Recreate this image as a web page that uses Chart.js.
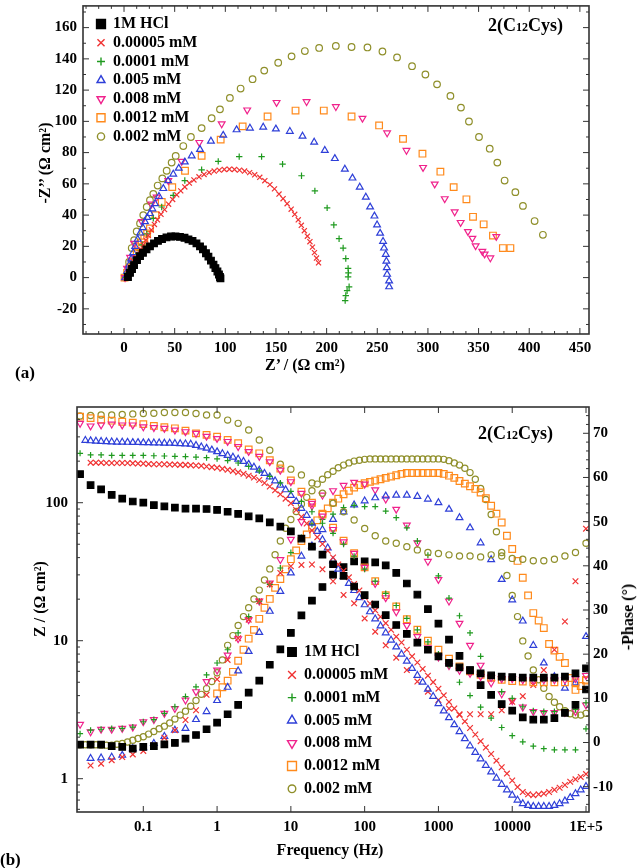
<!DOCTYPE html>
<html>
<head>
<meta charset="utf-8">
<script src="https://cdn.jsdelivr.net/npm/chart.js@4.4.1/dist/chart.umd.min.js"></script>
<style>
html, body { margin: 0; padding: 0; background: #fff; }
#wrap { position: relative; width: 637px; height: 868px; overflow: hidden;
        font-family: "Liberation Serif", "Times New Roman", serif; font-weight: bold; color: #000; }
canvas { position: absolute; left: 0; }
#cA { top: 0; }
#cB { top: 400px; }
.lbl { position: absolute; white-space: nowrap; line-height: 1; }
.mid { transform: translate(-50%, -50%); }
.rot { transform: translate(-50%, -50%) rotate(-90deg); }
.vc { transform: translateY(-50%); }
</style>
</head>
<body>
<div id="wrap">
  <canvas id="cA" width="637" height="395"></canvas>
  <canvas id="cB" width="637" height="468"></canvas>

  <div class="lbl mid" style="left:305px;top:365px;font-size:16px">Z’ / (Ω cm²)</div>
  <div class="lbl rot" style="left:45px;top:163px;font-size:16px">-Z’’ (Ω cm²)</div>
  <div class="lbl vc" style="left:488px;top:25px;font-size:18px">2(C<span style="font-size:12px">12</span>Cys)</div>
  <div class="lbl vc" style="left:15px;top:372px;font-size:17px">(a)</div>

  <div class="lbl mid" style="left:330px;top:850px;font-size:16px">Frequency (Hz)</div>
  <div class="lbl rot" style="left:40px;top:599px;font-size:16px">Z / (Ω cm²)</div>
  <div class="lbl rot" style="left:628px;top:617px;font-size:16px">-Phase (°)</div>
  <div class="lbl vc" style="left:478px;top:433px;font-size:18px">2(C<span style="font-size:12px">12</span>Cys)</div>
  <div class="lbl vc" style="left:0px;top:859px;font-size:17px">(b)</div>
</div>

<script>
// ---- series names ----
const LABELS = ['1M HCl', '0.00005 mM', '0.0001 mM', '0.005 mM', '0.008 mM', '0.0012 mM', '0.002 mM'];

// ---- (a) Nyquist: Z' and -Z'' (ohm cm2) ----
const nyqHclRe = [3.9,5.9,7.9,9.9,12.8,15.8,18.7,22.2,25.6,29.6,33.5,37.5,41.9,46.4,50.8,55.2,59.7,63.6,67.6,71.5,75.0,77.9,80.9,83.3,85.8,88.3,90.2,92.2,93.7,94.7,95.2];
const nyqHclIm = [0.4,3.0,5.5,8.0,11.2,13.7,15.9,18.1,20.0,21.9,23.5,24.7,25.7,26.3,26.4,26.1,25.5,24.5,23.5,21.9,20.0,18.1,15.6,13.4,10.9,8.3,6.1,3.9,2.0,0.4,-0.5];

const nyqRedRe = [2,4,6,8,10,12,14,16.5,19,21.5,24,27,30,33,36.5,40,44,48,52,56,60,64.5,69,74,79,84,89,94,99,104,109,114,119,124,129,134,139,144,148.5,153,157,161,165,168.5,172,175,178,181,183.5,186,188,190,192];
const nyqRedIm = [0,2.5,5,7.5,10,12.5,15,18,21,24,27,30.5,34,37,40.5,43.5,47,50,53,55.5,58,60.5,62.5,64.5,66,67.3,68.2,68.8,69.2,69.4,69.2,68.8,68.2,67.2,65.8,64.2,62,59.5,56.8,53.5,50.5,47.3,43.8,40.5,37,33.5,30,26.5,23,19.5,16,12.5,9.5];

const nyqGreenRe = [2,4,6,8,11,14,18,22.5,28.9,37.2,48.6,60,76.6,93,113.7,135.8,156.5,175.2,188.4,200.5,207.1,212.3,216.3,218.9,221.2,221.5,221.2,222.2,220.2,218.9,218.3];
const nyqGreenIm = [0,3,6,9,12,15.5,21,28,37.9,45.2,52.6,62.1,69,74.4,77.4,77.4,72.6,65.2,55.5,44.6,33.7,24.9,18.9,12.2,5.9,3,0.4,-5.9,-8.4,-11.5,-14.7];

const nyqBlueRe = [1,3,5,7,9,11,13.5,16,18.5,20.7,23,25.6,28,30.6,34.5,38.8,43.5,48.6,54,60,66.8,75,85.8,97.9,111.1,124.3,137.4,149.9,163.7,176.2,187.7,198.2,208.1,218,225.5,232.7,238.7,242.9,247.2,249.8,252.8,255.7,256.7,258.4,259,259.4,259.7,261.7,261.7];
const nyqBlueIm = [0,4,8,12,16,20,24.5,28.5,32,35.8,38.5,41,44,47.3,52,57,62,66.2,70,74,77.9,82,87.3,91.1,94.6,95.7,96.3,95.1,93.6,90.5,86.7,81.4,76.2,69.4,63.7,57.9,51.5,45.2,39.4,33.7,28.4,23.2,18.9,14.8,10.5,6.3,2.1,-2.1,-5.9];

const nyqPinkRe = [1,3,6,10,17.5,27,32.2,43.7,56.9,74.3,96.4,121.6,150.6,180.2,209.1,235.4,259.7,278.8,295.2,306.7,316.6,326.4,332.3,339.5,343.9,347.1,353.7,356,361.6,367.5];
const nyqPinkIm = [0,6,13,22,35.8,47,51.5,62.1,74.4,86.5,98.4,107.3,112.1,112.6,109.4,102,92.6,81.4,70.5,59.9,50.5,42.1,35.3,29.5,25.2,20.4,16.8,15.1,12.6,26.3];

const nyqOrangeRe = [0.5,3,5,7.5,10,12.5,15,17.5,20,22.8,25.6,31,37.2,47.6,60.2,76.6,95.4,117.1,141.7,169.3,197.2,224.6,251.8,275.4,294.6,312.3,325.4,338,344.5,355,364.2,374,381.4];
const nyqOrangeIm = [0,3,6,9.5,12.5,16,19.5,22.5,25,28.2,31.5,40,48.4,57.9,68.4,77.9,88.3,96.8,103.1,106.9,106.9,103.1,97.4,88.8,79.3,67.8,57.9,50.1,38.9,34.1,26.9,18.9,18.9];

const nyqOliveRe = [1,2.7,5,7.6,10,12.5,15.8,19,22.4,25.6,28.9,33.2,37.8,42.1,47,51,58.5,66,76.6,86.5,94.7,104.5,115.1,126.9,138.4,152.2,165.4,178.5,192.6,209.1,224.6,240.3,255.1,269.5,284.3,297.5,309,322.2,332.6,340.5,350.4,361,368.5,375.7,386.3,393.8,405.3,413.5];
const nyqOliveIm = [0,2.1,10,18.9,24,29.5,34.7,40,45.2,49.5,53.6,58.9,63.5,68.4,73.6,77.9,84.2,90,95.7,102,107.7,115,121,127,132.5,137.5,141.6,145,147,148.3,147.6,147.3,144.7,140.9,135.3,130,123.7,116.3,108.8,99.9,90,82.5,73.6,62.1,54.7,45.9,36.2,27.4];

const NYQ_X_TICKS = [0, 50, 100, 150, 200, 250, 300, 350, 400, 450];
const NYQ_Y_TICKS = [-20, 0, 20, 40, 60, 80, 100, 120, 140, 160];

// ---- (b) Bode: frequencies (Hz) ----
const F7 = [0.0139,0.0193,0.0268,0.0373,0.0518,0.072,
  0.1,0.139,0.193,0.268,0.373,0.518,0.72,
  1,1.39,1.93,2.68,3.73,5.18,7.2,
  10,13.9,19.3,26.8,37.3,51.8,72,
  100,139,193,268,373,518,720,
  1000,1390,1930,2680,3730,5180,7200,
  10000,13900,19300,26800,37300,51800,72000,
  100000];
const F14 = [0.0139,0.0164,0.0193,0.0228,0.0268,0.0316,0.0373,0.0439,0.0518,0.0611,0.072,0.0848,
  0.1,0.118,0.139,0.164,0.193,0.228,0.268,0.316,0.373,0.439,0.518,0.611,0.72,0.848,
  1,1.18,1.39,1.64,1.93,2.28,2.68,3.16,3.73,4.39,5.18,6.11,7.2,8.48,
  10,11.8,13.9,16.4,19.3,22.8,26.8,31.6,37.3,43.9,51.8,61.1,72,84.8,
  100,118,139,164,193,228,268,316,373,439,518,611,720,848,
  1000,1180,1390,1640,1930,2280,2680,3160,3730,4390,5180,6110,7200,8480,
  10000,11800,13900,16400,19300,22800,26800,31600,37300,43900,51800,61100,72000,84800,
  100000];

// |Z| (ohm cm2) and -phase (deg)
const hclMod = [161,134,125,114,107,102,100,96,94,92,90.5,90.5,90,88.6,86,83,79.5,77,72,67,62,55,48,42,35.8,29.5,24.7,21.4,18.3,15.3,13,11.2,9.7,8.6,7.7,6.9,6.4,6.1,5.8,5.6,5.5,5.45,5.4,5.4,5.4,5.4,5.5,5.8,6.3];
const hclPhase = [-0.5,-0.5,-0.5,-0.8,-1,-1.4,-1,-0.8,-0.4,-0.1,0.9,1.7,3.0,4.5,6.4,8.5,11.3,14.0,17.6,21.1,24.8,28.8,32.1,35.2,38.0,39.7,41.0,41.0,40.8,40.1,38.4,36.0,33.5,30.2,26.9,23.3,19.6,16.4,13.0,10.8,8.7,7.2,5.7,5.2,5.2,5.5,6.7,8.5,12.0];

const redMod = [null,null,195,195,195,194,194,194,194,194,193,192,192,191,190,190,190,189,189,188,188,
  187,186,185,183,181,179,176,173,170,166,
  162,157,152,146,139,131,123,115,107,99,
  88.5,79,70.6,63,56.3,50.2,44.9,40.1,
  35.7,32.1,28.8,25.8,23.1,20.7,18.6,16.6,14.9,13.4,12.0,10.7,9.7,8.6,7.7,6.95,6.24,5.58,5.01,4.49,4.02,3.6,3.23,2.9,2.6,2.33,2.09,1.87,1.68,1.51,1.35,1.21,1.09,0.97,
  0.87,0.8,0.77,0.76,0.77,0.78,0.8,0.83,0.86,0.9,0.95,0.99,1.03,1.08];
const redPhase = [null,-5.2,-4.8,-4.0,-3.3,-2.7,-1.9,-0.6,1.1,2.8,5.1,7.3,10.8,14.3,18.7,23.6,27.8,32,35.8,38.4,39.9,40.2,40.3,39.2,36.5,33.4,31.5,28.1,25.1,22,19.2,16.4,13.8,11.5,9.6,7.7,6.4,6.4,6.4,6.4,7.3,9.2,10.5,13,16.4,21,27.4,36.5,48.4];

const greenMod = [228,222,222,220,220,220,220,219,218,217,216,214,212,208,202,194,183,170,155,139,121,102,86,71,60,50,41,33,27,22,18,14.5,12,9.8,8,6.6,5.0,4.0,3.3,2.75,2.35,2.05,1.85,1.72,1.65,1.62,1.62,1.62,2.3];
const greenPhase = [2.0,2.8,3.0,3.2,3.2,3.5,4.7,5.2,6.6,8.1,10.4,12.6,15.3,18,21,24.8,28.5,32,35.8,39.5,43,46.4,49.4,50.5,51.7,53.2,53.7,53.4,53.4,52.4,50.9,48.6,45.6,42.4,37.7,32.7,28.7,24.8,19.5,15,11.5,10,8.1,7.2,7,7,7,7.5,9];

const blueMod = [null,283,281,279,278,277,276,275,275,274,273,
  273,272,272,271,271,270,270,269,268,267,
  266,260,254,248,241,234,227,220,214,207,199,190,181,172,163,154,144,134,124,113,102,91,81,71,62,54,47,
  38,33,29.2,
  26,23.1,20.5,18.2,16.2,14.4,12.8,11.4,10.1,9.0,8.0,7.1,6.3,5.6,5.0,4.45,3.95,3.5,3.1,2.77,2.46,2.19,1.95,1.73,1.55,1.39,1.25,1.12,1.01,0.91,0.83,0.76,0.7,
  0.66,0.64,0.63,0.63,0.63,0.63,0.64,0.66,0.69,0.73,0.78,0.83,0.88];
const bluePhase = [null,-3.6,-3.5,-3.3,-2.9,-1.4,-1.2,-0.2,1.4,2.8,3.2,5.2,7,9.5,12.5,16.2,20.6,24.9,29.7,34.2,38.4,42.2,44.5,48.2,50.5,52.2,53.8,54.7,55.4,55.8,56,56,55.7,55.1,54.3,52.8,50.9,48.6,45.2,41.4,36.9,32.3,27.5,22,18,14.9,12.3,13.5,24];

const pinkMod = [376,360,366,371,366,366,355,350,346,336,327,318,303,292,278,255,235,217,198,172,142,117,99,80,64,52,43,34,26,20.5,16.2,12.9,10.7,8.9,7.6,6.6,6.1,5.8,5.5,5.4,5.3,5.3,5.2,5.2,5.2,5.2,5.2,5.3,5.6];
const pinkPhase = [4.1,2.4,3,3,3.2,3.5,4.7,5.2,6.6,7.7,9.6,11.5,13.8,16.4,19.8,23.5,27.8,32,36.1,41.4,46,50,53.5,56,57,58.2,58.9,58.5,57.2,55.1,52.8,49.2,45.2,41,36.9,32,27,22,17.5,13.5,11,9.5,8,7,6.8,6.8,6.8,7,8.5];

const orangeMod = [420,410,400,393,386,380,371,360,352,346,333,318,310,301,285,270,243,228,203,177,145,120,100,82,66,53,43,34,27,21.4,17.7,14.3,12,10,8.6,7.4,6.5,6,5.65,5.4,5.2,5.1,5.05,5,5,5,5,5,5.2];
// starts near 1 Hz (the last 71 frequencies of F14)
const orangePhase = [11.1,12.5,14,16,18.5,21,23.5,25.5,28,30.5,32.5,35,37,39.2,41.5,43.5,45.6,47.1,48.8,50.3,51.8,53,54.3,55.2,56.2,57,57.7,58.3,58.7,59,59.3,59.6,59.9,60.2,60.5,60.8,61,61,61,61,61,61,61,60.8,60.4,59.9,59.2,58.6,58,57.4,56.6,55.3,53.6,51.8,49.8,46.8,43.8,41.1,37.3,33.3,29.3,27.6,25.9,22.3,20.8,19.4,18,14.6,11.9,12.8,14];

const oliveMod = [425,428,432,432,436,440,443,445,450,450,450,443,432,432,397,376,336,285,240,190,175,159,139,117,99,86,75,65,57.6,52.8,50.8,48,45.5,43.6,42.8,41.9,41.1,41.1,40.5,41.9,41.1,39.5,38.9,38,38,38.9,41.1,43.6,50.8];
const olivePhase = [-0.5,-0.5,-0.5,-0.5,-0.6,-0.6,-0.6,
  -0.4,-0.2,0.1,0.5,0.9,1.3,1.9,2.5,3.1,3.7,4.4,5.3,6.2,7.1,
  8.2,9.5,10.9,12.2,13.8,15.8,18.7,22,24.2,26.5,28.5,30.5,32.5,34.5,36.8,
  39.3,42.5,45.6,48.5,50.5,52.3,54,55.5,57,58.5,59.6,60.6,61.4,62.2,62.8,63.3,63.7,63.9,64.1,
  64.2,64.2,64.2,64.2,64.2,64.2,64.2,64.2,64.2,64.2,64.2,64.2,64.2,64.2,
  64.1,63.8,63.3,62.8,62.1,61.1,59.6,57.5,55,51.6,47.7,43,37.8,33.3,28.5,23,19.6,16.4,14.2,12.3,10.4,9.1,8.1,7.2,6.5,6.2,6.2,6.6];

const BODE_X_TICKS = [0.1, 1, 10, 100, 1000, 10000, 100000];
const BODE_X_LABELS = ['0.1', '1', '10', '100', '1000', '10000', '1E+5'];
const BODE_Z_TICKS = [1, 10, 100];
const BODE_P_TICKS = [-10, 0, 10, 20, 30, 40, 50, 60, 70];

// ---- styles ----
const MARK = [
  { style: 'rect',     color: '#000000', fill: true },
  { style: 'crossRot', color: '#f03232' },
  { style: 'cross',    color: '#1f9a1f' },
  { style: 'triangle', color: '#2e3fd8', rot: 0 },
  { style: 'triangle', color: '#f0228c', rot: 180 },
  { style: 'rect',     color: '#ff8a1c' },
  { style: 'circle',   color: '#8f8f2a' }
];
const R_A = [4.7, 3.6, 3.2, 3.9, 3.9, 4.7, 3.3];
const R_B = [4.6, 4.0, 3.0, 3.9, 3.9, 4.7, 3.1];

const SERIF = '"Liberation Serif", "Times New Roman", serif';
Chart.defaults.font.family = SERIF;
Chart.defaults.font.weight = 'bold';
Chart.defaults.font.size = 15;
Chart.defaults.color = '#000';

function zip(xs, ys) {
  const out = [];
  ys.forEach((y, i) => { if (y !== null) out.push({ x: xs[i], y: y }); });
  return out;
}

function makeSet(i, data, r, axis) {
  const m = MARK[i];
  return {
    label: LABELS[i], data: data, yAxisID: axis,
    pointStyle: m.style, pointRotation: m.rot || 0,
    pointRadius: r, pointHoverRadius: r,
    pointBorderColor: m.color,
    pointBackgroundColor: m.fill ? m.color : 'rgba(0,0,0,0)',
    pointBorderWidth: 1.2, showLine: false
  };
}

// fixed axis box sizes, no label overhang padding
function fixSize(w, h) {
  return s => {
    if (w) s.width = w;
    if (h) s.height = h;
    s.paddingTop = 0; s.paddingBottom = 0; s.paddingLeft = 0; s.paddingRight = 0;
  };
}

// inward tick marks and the box round the plot
const frame = {
  id: 'frame',
  afterDatasetsDraw(chart, args, o) {
    const { ctx, chartArea: a } = chart;
    ctx.save();
    ctx.strokeStyle = '#333';
    ctx.lineWidth = 1;
    for (const m of o.marks) {
      const s = chart.scales[m.scale];
      ctx.beginPath();
      for (const v of m.values) {
        const p = s.getPixelForValue(v);
        if (m.side === 'bottom') { ctx.moveTo(p, a.bottom); ctx.lineTo(p, a.bottom - m.len); }
        if (m.side === 'top')    { ctx.moveTo(p, a.top);    ctx.lineTo(p, a.top + m.len); }
        if (m.side === 'left')   { ctx.moveTo(a.left, p);   ctx.lineTo(a.left + m.len, p); }
        if (m.side === 'right')  { ctx.moveTo(a.right, p);  ctx.lineTo(a.right - m.len, p); }
      }
      ctx.stroke();
    }
    ctx.lineWidth = 1.6;
    ctx.strokeRect(a.left, a.top, a.right - a.left, a.bottom - a.top);
    ctx.restore();
  }
};

// legend drawn inside the plot
const keyBox = {
  id: 'keyBox',
  afterDatasetsDraw(chart, args, o) {
    const ctx = chart.ctx;
    ctx.save();
    ctx.font = 'bold ' + o.size + 'px ' + SERIF;
    ctx.textBaseline = 'middle';
    LABELS.forEach((lab, i) => {
      const m = MARK[i];
      const y = o.y + i * o.dy;
      ctx.strokeStyle = m.color;
      ctx.fillStyle = m.fill ? m.color : 'rgba(0,0,0,0)';
      ctx.lineWidth = 1.4;
      Chart.helpers.drawPoint(ctx, { pointStyle: m.style, radius: o.r[i], rotation: m.rot || 0, borderWidth: 1.4 }, o.x, y);
      ctx.fillStyle = '#000';
      ctx.fillText(lab, o.tx, y);
    });
    ctx.restore();
  }
};

function range(from, to, step, skip) {
  const out = [];
  for (let v = from; v <= to + 1e-9; v += step) if (!skip(v)) out.push(+v.toFixed(3));
  return out;
}

const noGrid = { display: false, drawTicks: false };

// ---------- (a) ----------
const nyq = [
  [nyqHclRe, nyqHclIm], [nyqRedRe, nyqRedIm], [nyqGreenRe, nyqGreenIm], [nyqBlueRe, nyqBlueIm],
  [nyqPinkRe, nyqPinkIm], [nyqOrangeRe, nyqOrangeIm], [nyqOliveRe, nyqOliveIm]
];
const xMinorA = range(-37.5, 450, 12.5, v => Math.abs(v % 50) < 1e-6);
const yMinorA = range(-30, 170, 20, () => false);

new Chart(document.getElementById('cA'), {
  type: 'scatter',
  data: { datasets: nyq.map((s, i) => makeSet(i, zip(s[0], s[1]), R_A[i], 'y')) },
  options: {
    responsive: false, animation: false, events: [],
    layout: { padding: { top: 1, right: 48, left: 0, bottom: 0 } },
    plugins: {
      legend: { display: false }, tooltip: { enabled: false },
      frame: { marks: [
        { scale: 'x', side: 'bottom', values: NYQ_X_TICKS, len: 6 },
        { scale: 'x', side: 'top', values: NYQ_X_TICKS, len: 6 },
        { scale: 'x', side: 'bottom', values: xMinorA, len: 3 },
        { scale: 'x', side: 'top', values: xMinorA, len: 3 },
        { scale: 'y', side: 'left', values: NYQ_Y_TICKS, len: 6 },
        { scale: 'y', side: 'right', values: NYQ_Y_TICKS, len: 6 },
        { scale: 'y', side: 'left', values: yMinorA, len: 3 },
        { scale: 'y', side: 'right', values: yMinorA, len: 3 }
      ] },
      keyBox: { x: 101, tx: 113, y: 24, dy: 18.75, size: 16, r: [6.3, 5, 4, 4.6, 4.6, 5.7, 3.6] }
    },
    scales: {
      x: {
        type: 'linear', min: -40.5, max: 459,
        afterBuildTicks: s => { s.ticks = NYQ_X_TICKS.map(v => ({ value: v })); },
        afterFit: fixSize(0, 61),
        grid: noGrid, border: { display: false },
        ticks: { padding: 5, maxRotation: 0, autoSkip: false }
      },
      y: {
        type: 'linear', min: -36.1, max: 173.9,
        afterBuildTicks: s => { s.ticks = NYQ_Y_TICKS.map(v => ({ value: v })); },
        afterFit: fixSize(83, 0),
        grid: noGrid, border: { display: false },
        ticks: { padding: 6, autoSkip: false }
      }
    }
  },
  plugins: [frame, keyBox]
});

// ---------- (b) ----------
const modSets = [
  zip(F7, hclMod), zip(F14, redMod), zip(F7, greenMod), zip(F14, blueMod),
  zip(F7, pinkMod), zip(F7, orangeMod), zip(F7, oliveMod)
];
const phaseSets = [
  zip(F7, hclPhase), zip(F7, redPhase), zip(F7, greenPhase), zip(F7, bluePhase),
  zip(F7, pinkPhase), zip(F14.slice(F14.length - orangePhase.length), orangePhase), zip(F14, olivePhase)
];
const Z_MIN = 0.5737, Z_MAX = 493.8;
const zMinor = [];
[0.1, 1, 10, 100].forEach(d => { for (let k = 2; k <= 9; k++) { const v = d * k; if (v > Z_MIN && v < Z_MAX) zMinor.push(v); } });
const pMinor = range(-14, 74, 2, v => Math.abs(v % 10) < 1e-6);

new Chart(document.getElementById('cB'), {
  type: 'scatter',
  data: {
    datasets: modSets.map((d, i) => makeSet(i, d, R_B[i], 'yZ'))
      .concat(phaseSets.map((d, i) => makeSet(i, d, R_B[i], 'yP')))
  },
  options: {
    responsive: false, animation: false, events: [],
    layout: { padding: { top: 7, right: 0, left: 0, bottom: 0 } },
    plugins: {
      legend: { display: false }, tooltip: { enabled: false },
      frame: { marks: [
        { scale: 'x', side: 'bottom', values: BODE_X_TICKS, len: 6 },
        { scale: 'x', side: 'top', values: BODE_X_TICKS, len: 6 },
        { scale: 'yZ', side: 'left', values: BODE_Z_TICKS, len: 6 },
        { scale: 'yZ', side: 'left', values: zMinor, len: 3 },
        { scale: 'yP', side: 'right', values: BODE_P_TICKS, len: 6 },
        { scale: 'yP', side: 'right', values: pMinor, len: 3 }
      ] },
      keyBox: { x: 292, tx: 304, y: 252, dy: 22.8, size: 16, r: [6, 5.5, 4.2, 5.2, 5.2, 6.3, 3.8] }
    },
    scales: {
      x: {
        type: 'logarithmic', min: 0.01263, max: 109800,
        afterBuildTicks: s => { s.ticks = BODE_X_TICKS.map(v => ({ value: v })); },
        afterFit: fixSize(0, 56),
        grid: noGrid, border: { display: false },
        ticks: { padding: 6, maxRotation: 0, autoSkip: false, callback: (v, i) => BODE_X_LABELS[i] }
      },
      yZ: {
        type: 'logarithmic', position: 'left', min: Z_MIN, max: Z_MAX,
        afterBuildTicks: s => { s.ticks = BODE_Z_TICKS.map(v => ({ value: v })); },
        afterFit: fixSize(77, 0),
        grid: noGrid, border: { display: false },
        ticks: { padding: 9, autoSkip: false, callback: v => String(v) }
      },
      yP: {
        type: 'linear', position: 'right', min: -15.73, max: 75.95,
        afterBuildTicks: s => { s.ticks = BODE_P_TICKS.map(v => ({ value: v })); },
        afterFit: fixSize(48, 0),
        grid: noGrid, border: { display: false },
        ticks: { padding: 4, autoSkip: false }
      }
    }
  },
  plugins: [frame, keyBox]
});
</script>
</body>
</html>
